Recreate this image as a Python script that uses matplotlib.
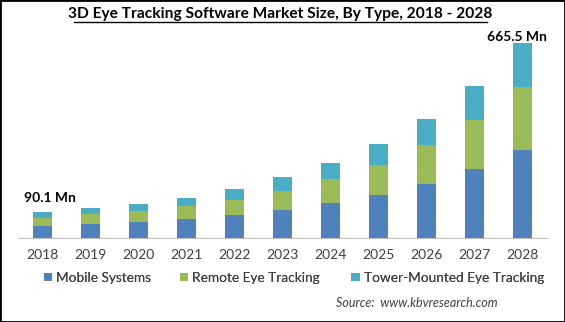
import matplotlib
matplotlib.use("Agg")
import matplotlib.pyplot as plt
import numpy as np
from matplotlib.patches import Rectangle

plt.rcParams['font.family'] = ['Lato', 'DejaVu Sans']

years = ['2018', '2019', '2020', '2021', '2022', '2023', '2024', '2025', '2026', '2027', '2028']
mobile = [41.0, 47.8, 54.6, 64.8, 78.5, 95.6, 119.5, 146.8, 184.3, 235.5, 300.3]
remote = [28.5, 35.2, 37.5, 44.4, 51.2, 64.8, 81.9, 102.4, 132.0, 167.2, 215.0]
tower = [20.6, 19.5, 23.9, 27.3, 37.5, 47.8, 54.6, 71.7, 89.8, 116.0, 150.2]
series_names = ['Mobile Systems', 'Remote Eye Tracking', 'Tower-Mounted Eye Tracking']
colors = ['#4F81BD', '#9BBB59', '#4BACC6']

fig = plt.figure(figsize=(5.65, 3.22), dpi=100)
ax = fig.add_axes([0.032, 0.2609, 0.936, 0.6056])

x = np.arange(len(years))
w = 0.4
b1 = np.array(mobile)
b2 = b1 + np.array(remote)
bars = [
    ax.bar(x, mobile, w, color=colors[0]),
    ax.bar(x, remote, w, bottom=b1, color=colors[1]),
    ax.bar(x, tower, w, bottom=b2, color=colors[2]),
]

ax.set_xlim(-0.5, 10.5)
ax.set_ylim(0, 665.5)
ax.set_yticks([])
for s in ['top', 'right', 'left']:
    ax.spines[s].set_visible(False)
ax.spines['bottom'].set_color('#BFBFBF')
ax.set_xticks(x)
ax.set_xticklabels(years, fontsize=10, color='#404040')
ax.tick_params(axis='x', length=0, pad=8)

totals = b2 + np.array(tower)
ax.text(0.17, totals[0] + 45, '90.1 Mn', ha='center', va='center',
        fontsize=10, fontweight='bold')
ax.text(9.87, totals[-1] + 20, '665.5 Mn', ha='center', va='center',
        fontsize=10, fontweight='bold', clip_on=False)

fig.text(0.496, 0.955, '3D Eye Tracking Software Market Size, By Type, 2018 - 2028',
         ha='center', va='center', fontsize=11.2, fontweight='bold')
# underline the title
fig.add_artist(plt.Line2D([0.131, 0.862], [0.933, 0.933], color='black', lw=1))

# one legend per entry so the spacing can follow the original
leg_x = [0.078, 0.319, 0.622]
for bc, name, lx in zip(bars, series_names, leg_x):
    lg = fig.legend([bc], [name], loc='center left', bbox_to_anchor=(lx, 0.137),
                    frameon=False, fontsize=9.8, handlelength=0.6, handleheight=0.6,
                    handletextpad=0.3, borderpad=0, borderaxespad=0, labelcolor='#404040')
    fig.add_artist(lg)

fig.text(0.88, 0.059, 'Source:  www.kbvresearch.com', ha='right', va='center',
         fontsize=9, style='italic', color='#404040')

fig.add_artist(Rectangle((0, 0), 1, 1, transform=fig.transFigure, fill=False,
                         edgecolor='black', lw=2))

fig.savefig('out.png', dpi=100)
